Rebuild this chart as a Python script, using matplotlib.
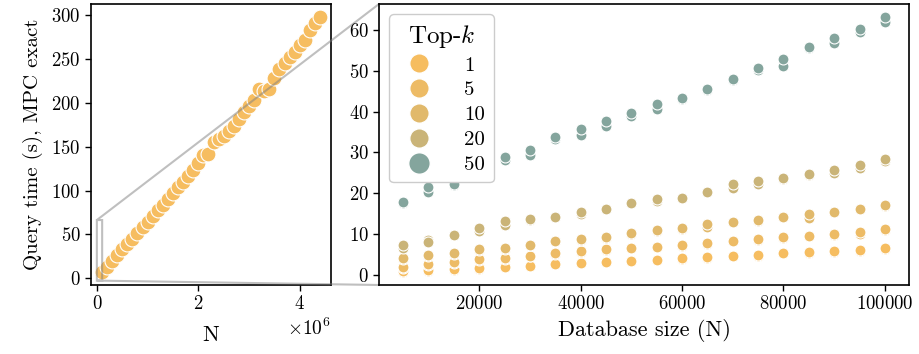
import matplotlib
matplotlib.use("Agg")
import matplotlib.pyplot as plt
from matplotlib.colors import LinearSegmentedColormap, Normalize
from matplotlib.lines import Line2D

plt.rcParams["font.family"] = "serif"
plt.rcParams["font.serif"] = ["cmr10", "DejaVu Serif"]
plt.rcParams["mathtext.fontset"] = "cm"
plt.rcParams["axes.formatter.use_mathtext"] = True
plt.rcParams["axes.unicode_minus"] = False

# --- large-N run (MPC exact), N in units of 1000 ---
n_large = [100, 200, 300, 400, 500, 600, 700, 800, 900, 1000,
           1100, 1200, 1300, 1400, 1500, 1600, 1700, 1800, 1900, 2000,
           2100, 2200, 2300, 2400, 2500, 2600, 2700, 2800, 2900, 3000,
           3100, 3200, 3300, 3400, 3500, 3600, 3700, 3800, 3900, 4000,
           4100, 4200, 4300, 4400]
t_large = [7, 13, 20, 27, 33, 39, 45, 52, 58, 64,
           71, 78, 84, 90, 97, 104, 110, 117, 124, 131,
           141, 142, 155, 159, 162, 168, 174, 182, 189, 196,
           203, 216, 214, 216, 228, 238, 245, 252, 258, 266,
           272, 283, 291, 298]

# --- database size sweep, two runs per (N, k) ---
db_sizes = [5000, 10000, 15000, 20000, 25000, 30000, 35000, 40000, 45000, 50000,
            55000, 60000, 65000, 70000, 75000, 80000, 85000, 90000, 95000, 100000]
top_k = [1, 5, 10, 20, 50]

k1_a = [0.6, 0.8, 1.1, 1.5, 1.8, 2.1, 2.5, 2.8, 3.0, 3.3, 3.6, 3.9, 4.1, 4.5, 4.7, 5.2, 5.3, 5.6, 5.8, 6.2]
k1_b = [0.9, 1.1, 1.3, 1.6, 2.0, 2.2, 2.6, 2.9, 3.1, 3.4, 3.7, 4.0, 4.3, 4.6, 4.8, 5.3, 5.5, 5.7, 6.0, 6.5]
k5_a = [1.7, 2.4, 2.9, 3.7, 3.8, 4.5, 5.1, 5.6, 6.1, 6.5, 6.7, 7.1, 7.6, 8.2, 8.6, 9.0, 9.4, 9.7, 10.0, 10.9]
k5_b = [1.9, 2.6, 3.1, 3.9, 4.1, 4.6, 5.2, 5.7, 6.2, 6.6, 6.9, 7.2, 7.8, 8.3, 8.7, 9.2, 9.6, 9.9, 10.5, 11.1]
k10_a = [3.8, 4.7, 5.1, 6.1, 6.3, 7.2, 8.2, 8.6, 9.1, 10.1, 10.8, 11.3, 11.8, 12.9, 13.2, 14.1, 14.0, 15.3, 16.1, 16.8]
k10_b = [4.0, 4.9, 5.3, 6.3, 6.6, 7.4, 8.3, 8.8, 9.2, 10.2, 10.9, 11.4, 12.4, 13.0, 13.4, 14.2, 14.9, 15.4, 16.2, 17.0]
k20_a = [6.5, 8.5, 9.7, 10.6, 12.3, 13.5, 14.1, 15.0, 16.1, 17.5, 18.2, 18.7, 20.3, 21.2, 22.2, 23.6, 24.5, 25.0, 26.2, 27.8]
k20_b = [7.3, 7.9, 9.8, 11.4, 13.1, 13.6, 14.2, 15.5, 16.2, 17.6, 18.5, 18.8, 20.4, 22.2, 22.9, 23.8, 24.7, 25.8, 26.8, 28.4]
k50_a = [17.6, 20.3, 22.1, 24.9, 28.2, 29.4, 33.3, 34.3, 36.6, 39.0, 40.7, 43.2, 45.3, 47.8, 50.2, 51.1, 55.6, 56.9, 59.6, 62.0]
k50_b = [17.8, 21.6, 22.3, 25.7, 29.0, 30.5, 33.9, 35.8, 37.6, 39.6, 41.8, 43.4, 45.6, 48.0, 50.8, 52.9, 55.8, 58.1, 60.2, 63.3]

runs = {1: (k1_a, k1_b), 5: (k5_a, k5_b), 10: (k10_a, k10_b),
        20: (k20_a, k20_b), 50: (k50_a, k50_b)}

cmap = LinearSegmentedColormap.from_list("topk", ["#f6bd60", "#84a59d"])
norm = Normalize(vmin=min(top_k), vmax=max(top_k))

fig = plt.figure(figsize=(9.19, 3.54), dpi=100)
ax_big = fig.add_axes([91 / 919, 69 / 354, 240 / 919, 281 / 354])
ax_db = fig.add_axes([379 / 919, 69 / 354, 530 / 919, 281 / 354])

# left: full scale
ax_big.scatter([n * 1000 for n in n_large], t_large, s=115, color=cmap(norm(1)),
               edgecolor="white", linewidth=0.8, zorder=3)
ax_big.set_xlabel("N", fontsize=16, labelpad=9)
ax_big.set_ylabel("Query time (s), MPC exact", fontsize=15, labelpad=6)
ax_big.set_yticks([0, 50, 100, 150, 200, 250, 300])
ax_big.set_xticks([0, 2e6, 4e6])
ax_big.ticklabel_format(axis="x", style="sci", scilimits=(6, 6))
ax_big.xaxis.get_offset_text().set_fontsize(14)

# right: zoom on small database sizes
for k in top_k:
    for run in runs[k]:
        ax_db.scatter(db_sizes, run, s=62, color=cmap(norm(k)),
                      edgecolor="white", linewidth=0.8, zorder=3)
ax_db.set_xlabel("Database size (N)", fontsize=16)
ax_db.set_xticks([20000, 40000, 60000, 80000, 100000])
ax_db.set_yticks([0, 10, 20, 30, 40, 50, 60])

for ax in (ax_big, ax_db):
    ax.tick_params(labelsize=13.5, length=4, width=1)
    for sp in ax.spines.values():
        sp.set_linewidth(1.2)

handles = [Line2D([], [], ls="", marker="o", color=cmap(norm(k)),
                  markersize=14 if k < 50 else 15.5, markeredgecolor="white")
           for k in top_k]
leg = ax_db.legend(handles, [str(k) for k in top_k], title="Top-$k$",
                   loc="upper left", fontsize=15, title_fontsize=18,
                   handletextpad=1.2, borderpad=0.4, labelspacing=0.3,
                   edgecolor="#cccccc", framealpha=1.0)

ax_big.indicate_inset_zoom(ax_db, edgecolor="0.5", alpha=0.5, linewidth=1.5)

fig.savefig("out.png", dpi=100)
